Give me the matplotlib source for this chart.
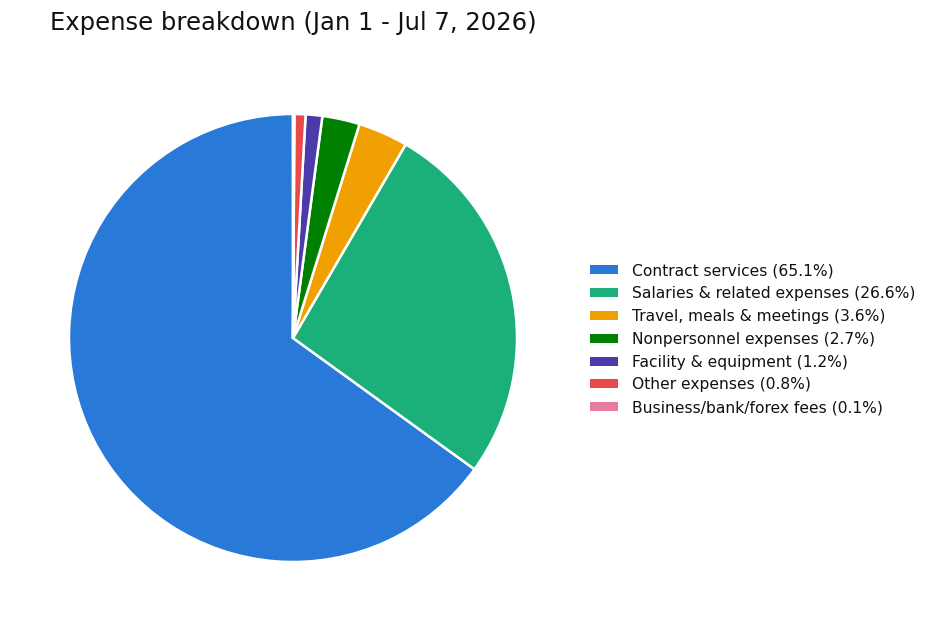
import matplotlib
matplotlib.use("Agg")
import matplotlib.pyplot as plt

plt.rcParams["font.family"] = ["DejaVu Sans"]

categories = ["Contract services", "Salaries & related expenses", "Travel, meals & meetings",
              "Nonpersonnel expenses", "Facility & equipment", "Other expenses",
              "Business/bank/forex fees"]
shares = [65.1, 26.6, 3.6, 2.7, 1.2, 0.8, 0.1]
colors = ["#2979D8", "#1BB07A", "#F0A000", "#008000", "#4B3BAA", "#E84A4A", "#E87CA0"]
title = "Expense breakdown (Jan 1 - Jul 7, 2026)"

W, H = 936, 634
fig = plt.figure(figsize=(W / 100, H / 100), dpi=100)
cx, cy, r = 293, 338, 224
ax = fig.add_axes([(cx - r) / W, (H - cy - r) / H, 2 * r / W, 2 * r / H])
wedges, _ = ax.pie(shares, colors=colors, startangle=90, counterclock=True,
                   wedgeprops=dict(edgecolor="white", linewidth=1.8))
ax.set_xlim(-1, 1)
ax.set_ylim(-1, 1)
ax.set_aspect("equal")
ax.axis("off")

fig.text(50 / W, 1 - 23 / H, title, fontsize=17.5, ha="left", va="center", color="#111111")

labels = [f"{c} ({s}%)" for c, s in zip(categories, shares)]
fs = 11.2
fig.legend(wedges, labels, loc="upper left", bbox_to_anchor=(590 / W, 1 - 263.5 / H),
           frameon=False, fontsize=fs, handlelength=1.8, handleheight=0.51,
           handletextpad=0.9, labelspacing=0.5, borderpad=0, borderaxespad=0)
for t in fig.legends[0].get_texts():
    t.set_color("#111111")
for p in fig.legends[0].get_patches():
    p.set_edgecolor("none")

fig.savefig("out.png", dpi=100)
